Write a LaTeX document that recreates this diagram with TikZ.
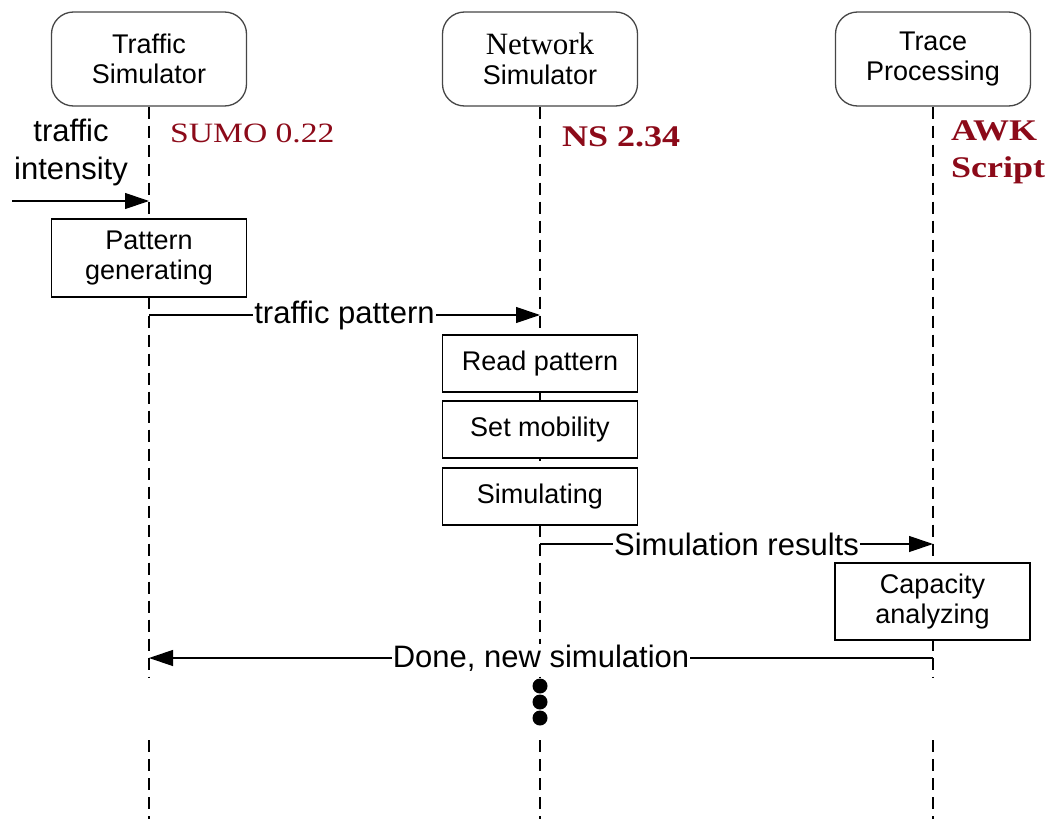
\documentclass[tikz,border=0pt]{standalone}
\usepackage{fontspec}
\setmainfont{Liberation Sans}
\newfontfamily\timesfont[FakeStretch=1.2]{Liberation Serif}
\newfontfamily\timesplain{Liberation Serif}
\usetikzlibrary{arrows.meta}
\definecolor{myred}{RGB}{140,10,25}
\definecolor{myframe}{RGB}{70,70,70}

\begin{document}
\begin{tikzpicture}[x=1pt,y=-1pt,
  actor/.style={draw=myframe, line width=1.3pt, rounded corners=22pt, fill=white, minimum width=195pt, minimum height=94pt, align=center, font=\fontsize{27}{30}\selectfont},
  task/.style={draw, line width=1.3pt, fill=white, minimum width=195pt, align=center, font=\fontsize{27}{30}\selectfont},
  life/.style={line width=1.2pt, dash pattern=on 12pt off 7pt},
  msg/.style={line width=1.2pt, -{Triangle[length=24pt,width=16pt]}},
  lbl/.style={fill=white, inner sep=1pt, font=\fontsize{31}{38}\selectfont},
  tool/.style={text=myred, align=left, anchor=west, inner sep=0pt}]
  \useasboundingbox (0,0) rectangle (1049,819);

  % lifelines
  \coordinate (ts-gap) at (149,678);
  \coordinate (ts-back) at (149,740);
  \coordinate (ts-end) at (149,819);
  \coordinate (ns-gap) at (540,678);
  \coordinate (ns-back) at (540,740);
  \coordinate (ns-end) at (540,819);
  \coordinate (tp-gap) at (933,678);
  \coordinate (tp-back) at (933,740);
  \coordinate (tp-end) at (933,819);

  \node[actor] (ts) at (149,59) {Traffic\\Simulator};
  \node[actor] (ns) at (540,59) {{\timesplain\fontsize{31}{30}\selectfont Network}\\Simulator};
  \node[actor] (tp) at (933,59) {Trace\\Processing};

  \draw[life] (ts.south) -- (ts-gap);
  \draw[life] (ts-back) -- (ts-end);
  \draw[life] (ns.south) -- (ns-gap);
  \draw[life] (ns-back) -- (ns-end);
  \draw[life] (tp.south) -- (tp-gap);
  \draw[life] (tp-back) -- (tp-end);

  % tools
  \node[tool, font=\timesfont\fontsize{28}{34}\selectfont] (sumo) at (170,133) {SUMO 0.22};
  \node[tool, font=\timesfont\bfseries\fontsize{30}{37}\selectfont] (ns2) at (562,137) {NS 2.34};
  \node[tool, font=\timesfont\bfseries\fontsize{30}{37}\selectfont] (awk) at (951,152) {AWK\\Script};

  % tasks
  \node[task, minimum height=78pt] (pg) at (149,258) {Pattern\\generating};
  \node[task, minimum height=57pt] (rp) at (540,363.5) {Read pattern};
  \node[task, minimum height=57pt] (sm) at (540,429.5) {Set mobility};
  \node[task, minimum height=57pt] (si) at (540,496.5) {Simulating};
  \node[task, minimum height=77pt] (ca) at (932.5,601.5) {Capacity\\analyzing};

  % messages
  \coordinate (ti-in) at (12,201);
  \coordinate (ti-hit) at (149,201);
  \node[font=\fontsize{31}{38}\selectfont, align=center] (ti) at (71,152) {traffic\\intensity};
  \draw[msg] (ti-in) -- (ti-hit);

  \coordinate (pat-from) at (149,315);
  \coordinate (pat-to) at (540,315);
  \draw[msg] (pat-from) -- node[lbl] (pat) {traffic pattern} (pat-to);

  \coordinate (res-from) at (540,544);
  \coordinate (res-to) at (933,544);
  \draw[msg] (res-from) -- node[lbl] (res) {Simulation results} (res-to);

  \coordinate (done-from) at (933,658);
  \coordinate (done-to) at (149,658);
  \draw[msg] (done-from) -- node[lbl] (done) {Done, new simulation} (done-to);

  % more rounds
  \foreach \y in {686,702,718}
    \fill (540,\y) circle (7.5pt);
\end{tikzpicture}
\end{document}
